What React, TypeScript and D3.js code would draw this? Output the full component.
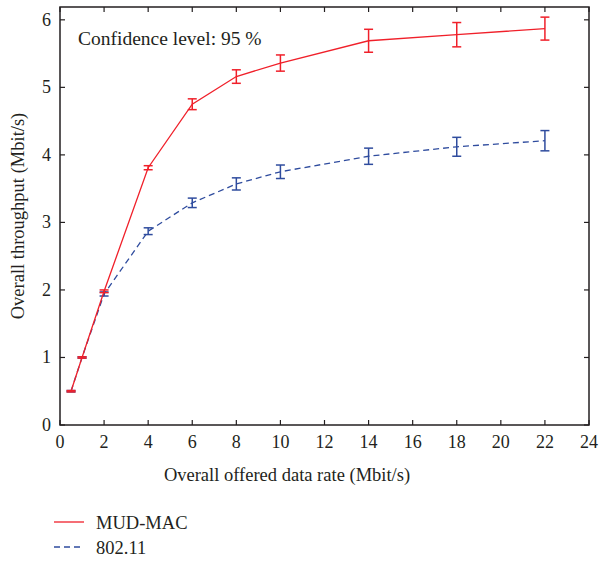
import React, { useEffect, useRef } from 'react';
import * as d3 from 'd3';

// offered data rate (Mbit/s)
const rates = [0.5, 1, 2, 4, 6, 8, 10, 14, 18, 22];
// MUD-MAC throughput + 95% half width
const mudMac = [0.5, 1.0, 1.98, 3.81, 4.75, 5.16, 5.36, 5.69, 5.78, 5.87];
const mudMacErr = [0.01, 0.01, 0.02, 0.03, 0.08, 0.1, 0.12, 0.17, 0.18, 0.17];
// 802.11 throughput + 95% half width
const dcf = [0.5, 1.0, 1.94, 2.87, 3.29, 3.57, 3.75, 3.98, 4.12, 4.21];
const dcfErr = [0.01, 0.01, 0.03, 0.05, 0.07, 0.09, 0.1, 0.12, 0.14, 0.15];

const xTicks = [0, 2, 4, 6, 8, 10, 12, 14, 16, 18, 20, 22, 24];
const yTicks = [0, 1, 2, 3, 4, 5, 6];

const RED = '#f0202a';
const BLUE = '#2f4c9e';
const INK = '#231f20';
const FONT = '"Liberation Serif", "DejaVu Serif", serif';

export default function App() {
  const ref = useRef<SVGSVGElement>(null);

  useEffect(() => {
    const svg = d3.select(ref.current);
    svg.selectAll('*').remove();

    const left = 60, right = 589, top = 7, bottom = 425;
    const x = d3.scaleLinear().domain([0, 24]).range([left, right]);
    const y = d3.scaleLinear().domain([0, 6.19]).range([bottom, top]);

    const g = svg.append('g');

    // frame
    g.append('rect')
      .attr('x', left).attr('y', top)
      .attr('width', right - left).attr('height', bottom - top)
      .attr('fill', 'none').attr('stroke', INK).attr('stroke-width', 1.5);

    // ticks inward on all four sides
    xTicks.forEach((t) => {
      g.append('line').attr('x1', x(t)).attr('x2', x(t)).attr('y1', bottom).attr('y2', bottom - 5)
        .attr('stroke', INK).attr('stroke-width', 1.2);
      g.append('line').attr('x1', x(t)).attr('x2', x(t)).attr('y1', top).attr('y2', top + 5)
        .attr('stroke', INK).attr('stroke-width', 1.2);
      g.append('text').attr('x', x(t)).attr('y', bottom + 23)
        .attr('text-anchor', 'middle').attr('font-size', 18).attr('font-family', FONT)
        .attr('fill', INK).text(t);
    });
    yTicks.forEach((t) => {
      g.append('line').attr('x1', left).attr('x2', left + 5).attr('y1', y(t)).attr('y2', y(t))
        .attr('stroke', INK).attr('stroke-width', 1.2);
      g.append('line').attr('x1', right).attr('x2', right - 5).attr('y1', y(t)).attr('y2', y(t))
        .attr('stroke', INK).attr('stroke-width', 1.2);
      g.append('text').attr('x', left - 9).attr('y', y(t) + 6)
        .attr('text-anchor', 'end').attr('font-size', 18).attr('font-family', FONT)
        .attr('fill', INK).text(t);
    });

    // axis titles
    g.append('text').attr('x', 287).attr('y', 481)
      .attr('text-anchor', 'middle').attr('font-size', 18.5).attr('font-family', FONT)
      .attr('fill', INK).text('Overall offered data rate (Mbit/s)');
    g.append('text').attr('transform', `translate(24,${(top + bottom) / 2}) rotate(-90)`)
      .attr('text-anchor', 'middle').attr('font-size', 18.5).attr('font-family', FONT)
      .attr('fill', INK).text('Overall throughput (Mbit/s)');

    g.append('text').attr('x', 78).attr('y', 45)
      .attr('font-size', 19.5).attr('font-family', FONT)
      .attr('fill', INK).text('Confidence level: 95 %');

    const line = d3.line<number>().x((d, i) => x(rates[i])).y((d) => y(d));

    const drawSeries = (vals: number[], errs: number[], color: string, dash: string | null) => {
      g.append('path').attr('d', line(vals)).attr('fill', 'none')
        .attr('stroke', color).attr('stroke-width', 1.3)
        .attr('stroke-dasharray', dash);
      vals.forEach((v, i) => {
        const cx = x(rates[i]);
        const e = errs[i];
        g.append('line').attr('x1', cx).attr('x2', cx).attr('y1', y(v - e)).attr('y2', y(v + e))
          .attr('stroke', color).attr('stroke-width', 1.5);
        [v - e, v + e].forEach((yy) => {
          g.append('line').attr('x1', cx - 4.5).attr('x2', cx + 4.5).attr('y1', y(yy)).attr('y2', y(yy))
            .attr('stroke', color).attr('stroke-width', 1.5);
        });
      });
    };
    drawSeries(dcf, dcfErr, BLUE, '6,4');
    drawSeries(mudMac, mudMacErr, RED, null);

    // legend
    const legend = [
      { name: 'MUD-MAC', color: RED, dash: null, y: 522 },
      { name: '802.11', color: BLUE, dash: '6,4', y: 547 },
    ];
    legend.forEach((l) => {
      g.append('line').attr('x1', 54).attr('x2', 84).attr('y1', l.y).attr('y2', l.y)
        .attr('stroke', l.color).attr('stroke-width', 1.3).attr('stroke-dasharray', l.dash);
      g.append('text').attr('x', 96).attr('y', l.y + 7)
        .attr('font-size', 18.5).attr('font-family', FONT).attr('fill', INK).text(l.name);
    });
  }, []);

  return (
    <svg ref={ref} width={602} height={561}
      style={{ position: 'absolute', left: 0, top: 0, background: '#fff' }} />
  );
}
